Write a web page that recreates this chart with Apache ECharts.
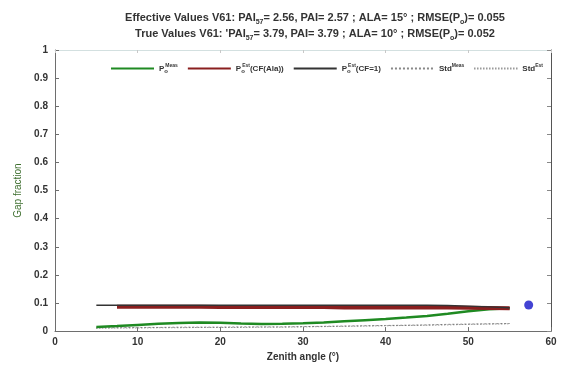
<!DOCTYPE html>
<html>
<head>
<meta charset="utf-8">
<script src="https://cdn.jsdelivr.net/npm/echarts@6/dist/echarts.min.js"></script>
<style>
  html, body { margin: 0; padding: 0; background: #fff; }
  #chart { width: 574px; height: 367px; }
</style>
</head>
<body>
<div id="chart"></div>
<script>
// Zenith angles (degrees) at which gap fraction is sampled
var angles = [5, 7.5, 10, 12.5, 15, 17.5, 20, 22.5, 25, 27.5, 30, 32.5, 35, 37.5, 40, 42.5, 45, 47.5, 50, 52.5, 55];

// Measured gap fraction
var gapMeas = [0.015, 0.018, 0.022, 0.026, 0.029, 0.031, 0.030, 0.027, 0.025, 0.026, 0.028, 0.031, 0.035, 0.039, 0.043, 0.048, 0.054, 0.062, 0.071, 0.078, 0.081];
// Estimated gap fraction with clumping factor from ALA
var gapEstAla = [null, 0.087, 0.087, 0.087, 0.087, 0.087, 0.086, 0.086, 0.086, 0.086, 0.086, 0.086, 0.084, 0.084, 0.084, 0.084, 0.084, 0.084, 0.083, 0.082, 0.081];
// Estimated gap fraction with CF = 1
var gapEstCf1 = [0.092, 0.092, 0.092, 0.092, 0.092, 0.092, 0.092, 0.092, 0.092, 0.092, 0.092, 0.092, 0.092, 0.092, 0.092, 0.092, 0.092, 0.091, 0.089, 0.086, 0.083];
// Standard deviations
var stdMeas = [0.012, 0.012, 0.013, 0.013, 0.014, 0.014, 0.014, 0.015, 0.015, 0.015, 0.016, 0.017, 0.018, 0.019, 0.020, 0.021, 0.022, 0.024, 0.025, 0.026, 0.027];
var stdEst = [0.010, 0.011, 0.011, 0.012, 0.012, 0.013, 0.013, 0.013, 0.014, 0.014, 0.015, 0.016, 0.017, 0.018, 0.019, 0.020, 0.021, 0.022, 0.024, 0.025, 0.026];

// Single point at the hinge angle
var hingePoint = [[57.3, 0.093]];

function pairs(ys) {
  return angles.map(function (a, i) { return [a, ys[i]]; });
}

// Legend labels: subscript "o" is given almost no width so the superscript stacks above it
var legendLabels = {
  'Pmeas': 'P{sub|o}{sup|Meas}',
  'PestAla': 'P{sub|o}{sup|Est}(CF(Ala))',
  'PestCf1': 'P{sub|o}{sup|Est}(CF=1)',
  'StdMeas': 'Std{sup|Meas}',
  'StdEst': 'Std{sup|Est}'
};

var chart = echarts.init(document.getElementById('chart'), null, { renderer: 'canvas' });

var font = 'Liberation Sans, Arial, sans-serif';
var frame = '#6e6e6e';

chart.setOption({
  animation: false,
  backgroundColor: '#fff',
  title: {
    left: 310,
    top: 5,
    textAlign: 'center',
    text: 'Effective Values V61: PAI{sub|57}= 2.56, PAI= 2.57 ; ALA= 15° ; RMSE(P{sub|o})= 0.055\n' +
          "True Values V61: 'PAI{sub|57}= 3.79, PAI= 3.79 ; ALA= 10° ; RMSE(P{sub|o})= 0.052",
    textStyle: {
      fontFamily: font, fontSize: 11, fontWeight: 'bold', color: '#333', lineHeight: 16,
      rich: {
        sub: { fontFamily: font, fontSize: 7, fontWeight: 'bold', color: '#333', verticalAlign: 'bottom', lineHeight: 16, padding: [6, 0, 0, 0] }
      }
    }
  },
  legend: {
    top: 58,
    left: 105,
    width: 470,
    itemWidth: 43,
    itemHeight: 8,
    itemGap: 9,
    data: ['Pmeas', 'PestAla', 'PestCf1', 'StdMeas', 'StdEst'],
    itemStyle: { opacity: 0 },
    formatter: function (name) { return legendLabels[name]; },
    textStyle: {
      fontFamily: font, fontSize: 8, fontWeight: 'bold', color: '#333',
      rich: {
        sup: { fontFamily: font, fontSize: 5, fontWeight: 'bold', color: '#333', verticalAlign: 'top', padding: [0, 0, 5, 0] },
        sub: { fontFamily: font, fontSize: 6, fontWeight: 'bold', color: '#333', verticalAlign: 'bottom', padding: [5, 0, 0, 0], width: 1 }
      }
    }
  },
  grid: { left: 55, right: 23, top: 50, bottom: 33, show: false },
  xAxis: [{
    type: 'value', min: 0, max: 60, interval: 10,
    name: 'Zenith angle (°)', nameLocation: 'middle', nameGap: 18,
    nameTextStyle: { fontFamily: font, fontSize: 10, fontWeight: 'bold', color: '#333' },
    axisLine: { show: true, onZero: false, lineStyle: { color: frame, width: 1 } },
    axisTick: { show: true, inside: true, length: 4, lineStyle: { color: frame } },
    axisLabel: { fontFamily: font, fontSize: 10, fontWeight: 'bold', color: '#333', margin: 6 },
    splitLine: { show: false }
  }, {
    type: 'value', min: 0, max: 60, interval: 10, position: 'top',
    axisLine: { show: true, onZero: false, lineStyle: { color: '#d3e0e0', width: 1 } },
    axisTick: { show: true, inside: true, length: 3, lineStyle: { color: '#c8c8c8' } },
    axisLabel: { show: false }, splitLine: { show: false }
  }],
  yAxis: [{
    type: 'value', min: 0, max: 1, interval: 0.1,
    name: 'Gap fraction', nameLocation: 'middle', nameGap: 25,
    nameTextStyle: { fontFamily: font, fontSize: 10, color: '#3d6e2e' },
    axisLine: { show: true, onZero: false, lineStyle: { color: frame, width: 1 } },
    axisTick: { show: true, inside: true, length: 4, lineStyle: { color: frame } },
    axisLabel: {
      fontFamily: font, fontSize: 10, fontWeight: 'bold', color: '#333', margin: 7,
      formatter: function (v) { return (v === 0 || v === 1) ? String(v) : v.toFixed(1); }
    },
    splitLine: { show: false }
  }, {
    type: 'value', min: 0, max: 1, interval: 0.1, position: 'right',
    axisLine: { show: true, onZero: false, lineStyle: { color: '#555', width: 1 } },
    axisTick: { show: true, inside: true, length: 4, lineStyle: { color: '#888' } },
    axisLabel: { show: false }, splitLine: { show: false }
  }],
  series: [
    {
      name: 'StdMeas', type: 'line', symbol: 'none', data: pairs(stdMeas), z: 2,
      lineStyle: { color: '#888', width: 1, type: [2, 2] }, itemStyle: { color: '#888' }
    },
    {
      name: 'StdEst', type: 'line', symbol: 'none', data: pairs(stdEst), z: 2,
      lineStyle: { color: '#666', width: 1, type: [1, 2] }, itemStyle: { color: '#666' }
    },
    {
      name: 'Pmeas', type: 'line', symbol: 'none', data: pairs(gapMeas), z: 3,
      lineStyle: { color: '#1f8a22', width: 2.5 }, itemStyle: { color: '#1f8a22' }
    },
    {
      name: 'PestAla', type: 'line', symbol: 'none', data: pairs(gapEstAla), z: 4,
      lineStyle: { color: '#8a1f1f', width: 4 }, itemStyle: { color: '#8a1f1f' }
    },
    {
      name: 'PestCf1', type: 'line', symbol: 'none', data: pairs(gapEstCf1), z: 5,
      lineStyle: { color: '#333', width: 1.4 }, itemStyle: { color: '#333' }
    },
    {
      name: 'hinge', type: 'scatter', symbol: 'circle', symbolSize: 9, data: hingePoint, z: 6,
      itemStyle: { color: '#1414c8' }
    }
  ]
});
</script>
</body>
</html>
